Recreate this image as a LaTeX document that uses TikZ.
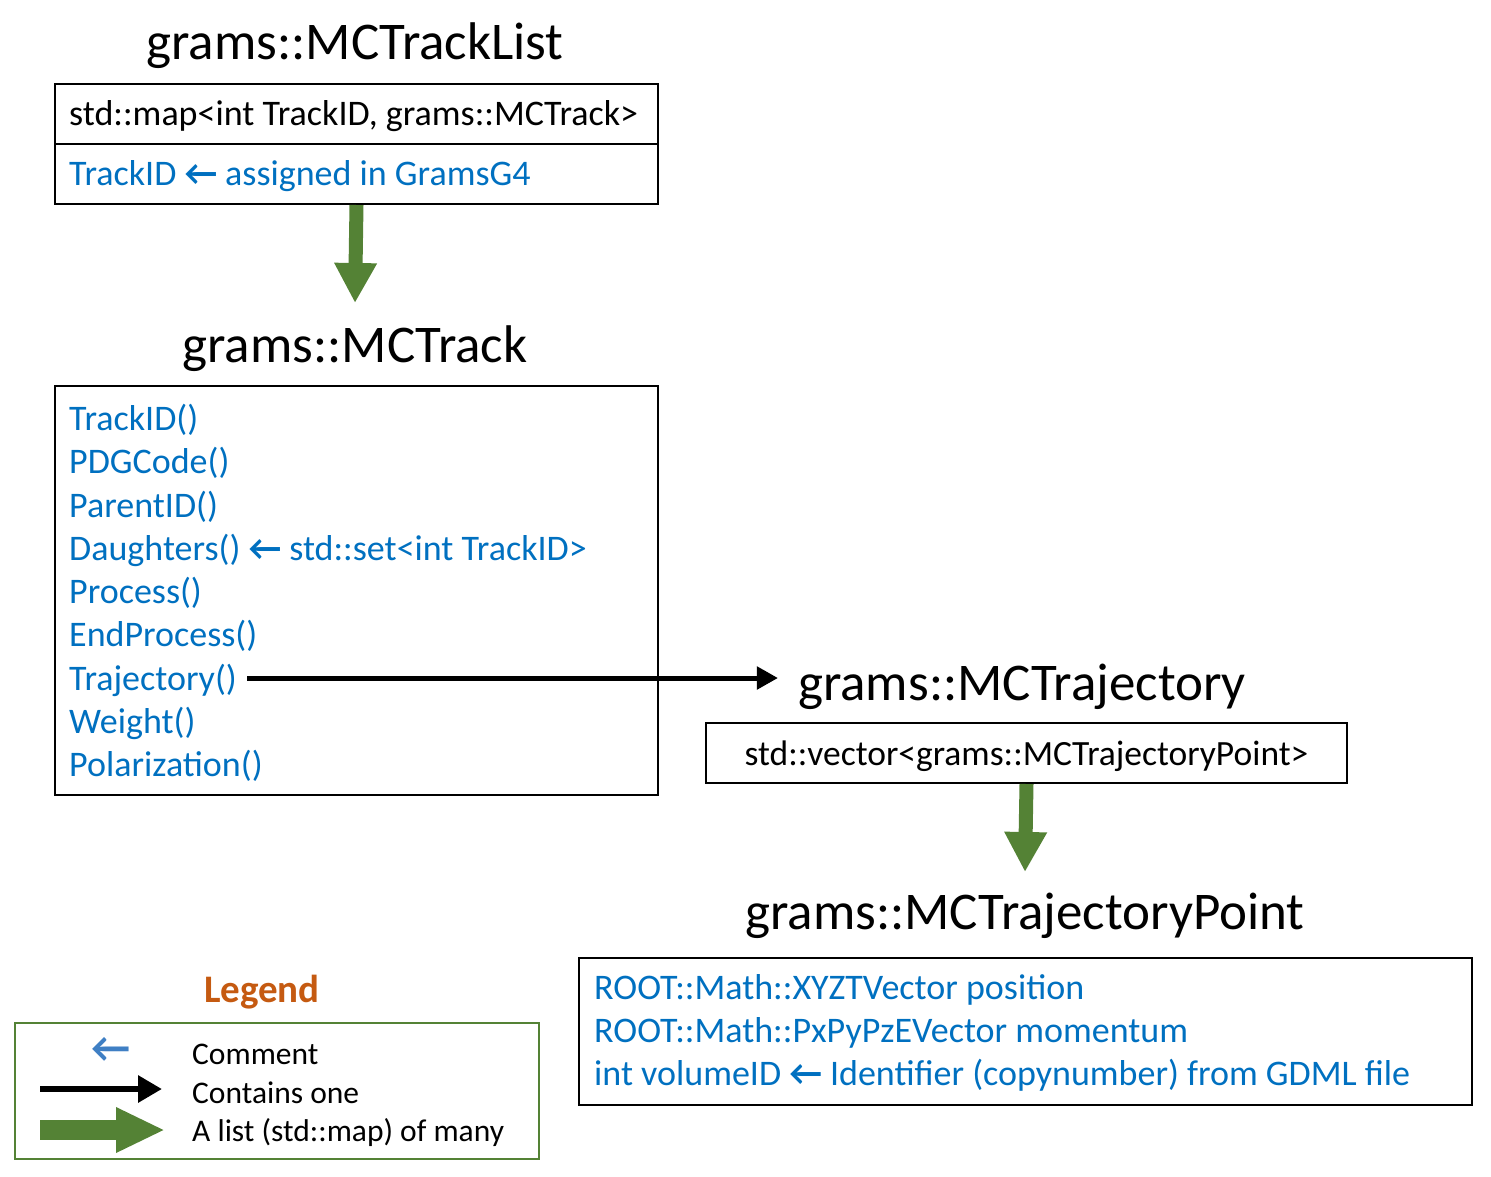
\documentclass[tikz,border=0pt]{standalone}
\usepackage{fontspec}
\setmainfont{Carlito}
\usetikzlibrary{arrows.meta}
\definecolor{cblue}{HTML}{0070C0}
\definecolor{lblue}{HTML}{3F7FC4}
\definecolor{cgreen}{HTML}{548235}
\definecolor{corange}{HTML}{C55A11}
\newcommand{\cmtarrow}{\textbf{←}}
\begin{document}
\begin{tikzpicture}[x=1pt,y=-1pt,
  ttl/.style={font=\fontsize{53}{60}\selectfont, inner sep=0pt},
  boxr/.style={draw=black, line width=2pt, inner sep=0pt, anchor=north west},
  txt/.style={font=\fontsize{36}{40}\selectfont, inner sep=0pt, anchor=west, text height=28pt, text depth=4pt},
  btxt/.style={txt, text=cblue},
  legtxt/.style={font=\fontsize{31.5}{36}\selectfont, inner sep=0pt, anchor=west, text height=25pt, text depth=3pt},
  greenarrow/.style={draw=cgreen, line width=14pt, -{Triangle[width=40pt,length=40pt]}},
  blackarrow/.style={draw=black, line width=5pt, -{Triangle[width=22pt,length=21pt]}},
]
\useasboundingbox (0,0) rectangle (1491,1176);

% MCTrackList
\node[ttl] (listttl) at (355,46) {grams::MCTrackList};
\node[boxr, minimum width=603pt, minimum height=60pt] (mapbox) at (54,83) {};
\node[boxr, minimum width=603pt, minimum height=60pt] (idbox) at (54,143) {};
\node[txt] (mapline) at (69,113) {std::map<int TrackID, grams::MCTrack>};
\node[btxt] (idline) at (69,173) {TrackID \cmtarrow\ assigned in GramsG4};

\coordinate (a1tip) at (355,303);
\draw[greenarrow] (idbox.south) -- (a1tip);

% MCTrack
\node[ttl] (trackttl) at (355,349) {grams::MCTrack};
\node[boxr, minimum width=603pt, minimum height=409pt] (trackbox) at (54,385) {};
\node[btxt] (l1) at (69,418) {TrackID()};
\node[btxt] (l2) at (69,461) {PDGCode()};
\node[btxt] (l3) at (69,505) {ParentID()};
\node[btxt] (l4) at (69,548) {Daughters() \cmtarrow\ std::set<int TrackID>};
\node[btxt] (l5) at (69,591) {Process()};
\node[btxt] (l6) at (69,634) {EndProcess()};
\node[btxt] (l7) at (69,678) {Trajectory()};
\node[btxt] (l8) at (69,721) {Weight()};
\node[btxt] (l9) at (69,764) {Polarization()};

% MCTrajectory
\node[ttl] (trajttl) at (1022,687) {grams::MCTrajectory};
\draw[blackarrow, shorten <=10pt, shorten >=20pt] (l7.east) -- (l7.east -| trajttl.west);
\node[boxr, minimum width=641pt, minimum height=60pt, font=\fontsize{35.5}{40}\selectfont, text height=28pt, text depth=4pt] (vecbox) at (705,722) {std::vector<grams::MCTrajectoryPoint>};

\coordinate (a2tip) at (1025,872);
\draw[greenarrow] (vecbox.south) -- (a2tip);

% MCTrajectoryPoint
\node[ttl] (pointttl) at (1025,916) {grams::MCTrajectoryPoint};
\node[boxr, minimum width=893pt, minimum height=147pt] (pointbox) at (578,957) {};
\node[btxt] (p1) at (594,987) {ROOT::Math::XYZTVector position};
\node[btxt] (p2) at (594,1030) {ROOT::Math::PxPyPzEVector momentum};
\node[btxt] (p3) at (594,1073) {int volumeID \cmtarrow\ Identifier (copynumber) from GDML file};

% Legend
\node[font=\bfseries\fontsize{39}{44}\selectfont, text=corange, inner sep=0pt] (legttl) at (262,992) {Legend};
\node[draw=cgreen, line width=2pt, minimum width=524pt, minimum height=136pt, anchor=north west, inner sep=0pt] (legbox) at (14,1022) {};
\node[text=lblue, font=\bfseries\fontsize{43}{48}\selectfont, inner sep=0pt] (lcmt) at (111,1050) {←};
\node[legtxt] (lcomment) at (192,1053) {Comment};
\coordinate (lb1) at (40,1089);
\coordinate (lb2) at (162,1089);
\draw[draw=black, line width=6pt, -{Triangle[width=26pt,length=24pt]}] (lb1) -- (lb2);
\node[legtxt] (lcontains) at (192,1092) {Contains one};
\coordinate (lg1) at (40,1130);
\coordinate (lg2) at (165,1130);
\draw[draw=cgreen, line width=20pt, -{Triangle[width=42pt,length=49pt]}] (lg1) -- (lg2);
\node[legtxt] (llist) at (192,1130) {A list (std::map) of many};
\end{tikzpicture}
\end{document}
